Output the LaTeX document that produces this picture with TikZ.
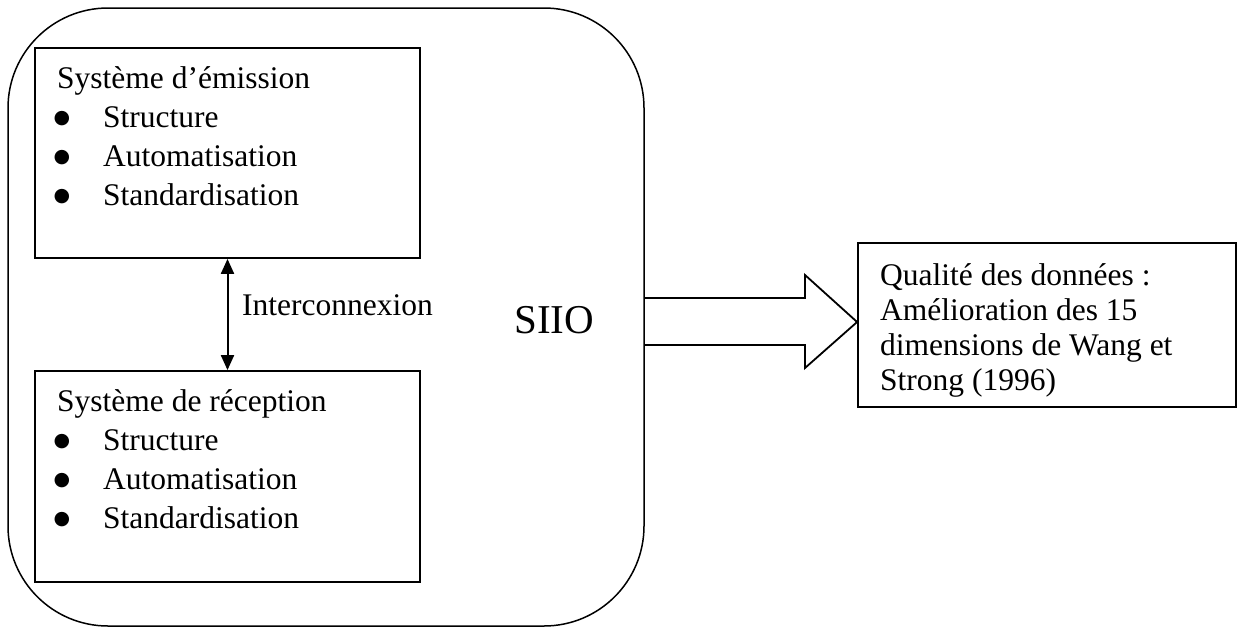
\documentclass[tikz,border=0pt]{standalone}
\usepackage{fontspec}
\setmainfont{Liberation Serif}
\newfontfamily\dejavu{DejaVu Sans}
\usetikzlibrary{arrows.meta}
\begin{document}
\begin{tikzpicture}[x=1pt,y=-1pt,
  txt/.style={inner sep=0pt, anchor=base west, font=\fontsize{31.5}{38}\selectfont},
  bul/.style={inner sep=0pt, anchor=center, font=\dejavu\fontsize{19}{19}\selectfont},
  sysbox/.style={draw, line width=1.8pt, minimum width=385pt, minimum height=210pt, inner sep=0pt}]
\useasboundingbox (0,0) rectangle (1237,627);
% outer rounded frame
\node[draw, line width=1.5pt, rounded corners=100pt, minimum width=636pt, minimum height=618pt, inner sep=0pt] (outer) at (326,317) {};
% boxes
\node[sysbox] (emit) at (227.5,153) {};
\node[sysbox, minimum height=211pt] (recv) at (227.5,476.5) {};
\node[draw, line width=1.8pt, minimum width=378pt, minimum height=164pt, inner sep=0pt] (qual) at (1047,325) {};
% emission text
\node[txt] (e0) at (57,88) {Système d’émission};
\node[bul] (e1b) at (62,119) {●}; \node[txt] (e1) at (103,127) {Structure};
\node[bul] (e2b) at (62,158) {●}; \node[txt] (e2) at (103,166) {Automatisation};
\node[bul] (e3b) at (62,197) {●}; \node[txt] (e3) at (103,205) {Standardisation};
% reception text
\node[txt] (r0) at (57,411) {Système de réception};
\node[bul] (r1b) at (62,442) {●}; \node[txt] (r1) at (103,450) {Structure};
\node[bul] (r2b) at (62,481) {●}; \node[txt] (r2) at (103,489) {Automatisation};
\node[bul] (r3b) at (62,520) {●}; \node[txt] (r3) at (103,528) {Standardisation};
% labels
\node[txt] (inter) at (242,315) {Interconnexion};
\node[txt, font=\fontsize{41}{48}\selectfont] (siio) at (514,333) {SIIO};
% quality text
\node[txt] (q1) at (880,285) {Qualité des données :};
\node[txt] (q2) at (880,320) {Amélioration des 15};
\node[txt] (q3) at (880,355) {dimensions de Wang et};
\node[txt] (q4) at (880,390) {Strong (1996)};
% interconnexion arrow
\draw[line width=2pt, {Triangle[length=15pt,width=13pt]}-{Triangle[length=15pt,width=13pt]}] (emit.south) -- (recv.north);
% block arrow
\draw[line width=1.8pt, line join=miter] (outer.east |- 0,298) -- (805,298) -- (805,275) -- (qual.west |- 0,322) -- (805,368) -- (805,345) -- (outer.east |- 0,345);
\end{tikzpicture}
\end{document}
